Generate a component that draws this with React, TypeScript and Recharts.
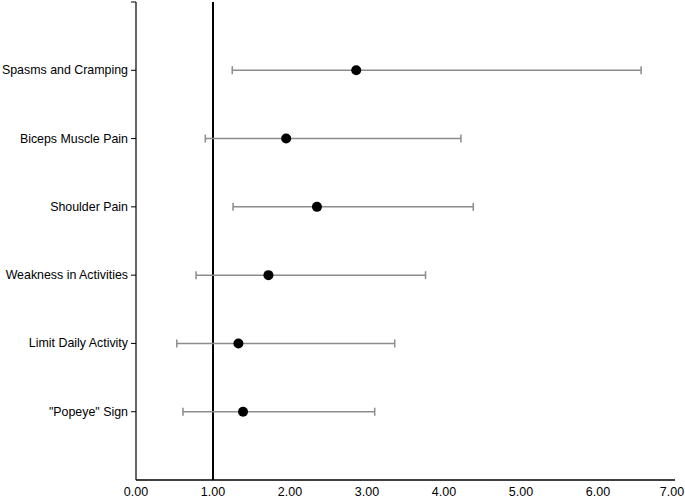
import {
  ComposedChart,
  Scatter,
  ErrorBar,
  XAxis,
  YAxis,
  ReferenceLine,
} from "recharts";

const categories = [
  "Spasms and Cramping",
  "Biceps Muscle Pain",
  "Shoulder Pain",
  "Weakness in Activities",
  "Limit Daily Activity",
  "\"Popeye\" Sign",
];
const oddsRatio = [2.86, 1.95, 2.35, 1.72, 1.33, 1.39];
const lowerCI = [1.25, 0.9, 1.26, 0.78, 0.53, 0.61];
const upperCI = [6.56, 4.22, 4.38, 3.76, 3.36, 3.1];
const xTicks = [0, 1, 2, 3, 4, 5, 6, 7];
const yTicks = [1, 2, 3, 4, 5, 6, 7];

const rows = categories.map((name, i) => ({
  name,
  x: oddsRatio[i],
  y: categories.length - i,
  err: [oddsRatio[i] - lowerCI[i], upperCI[i] - oddsRatio[i]],
}));

const font = "'Liberation Sans', Arial, sans-serif";

const Dot = (props: any) => (
  <circle cx={props.cx} cy={props.cy} r={5} fill="#000" />
);

const YTick = (props: any) => {
  const v = props.payload.value;
  const label = v >= 1 && v <= categories.length ? categories[categories.length - v] : "";
  return (
    <text x={props.x - 1} y={props.y} dy={4} textAnchor="end" fill="#000" fontSize={12.4} fontFamily={font}>
      {label}
    </text>
  );
};

const XTick = (props: any) => {
  const x = Math.min(props.x, 685 - 13);
  return (
    <text x={x} y={props.y} dy={10} textAnchor="middle" fill="#000" fontSize={12.5} fontFamily={font}>
      {Number(props.payload.value).toFixed(2)}
    </text>
  );
};

export default function App() {
  return (
    <div style={{ position: "absolute", left: 0, top: 0, background: "#fff" }}>
      <ComposedChart
        width={685}
        height={502}
        margin={{ top: 2, right: 10, left: 0, bottom: 0 }}
      >
        <XAxis
          type="number"
          dataKey="x"
          domain={[0, 7]}
          ticks={xTicks}
          height={22}
          tickLine={false}
          tickSize={4}
          axisLine={{ stroke: "#000", strokeWidth: 1.5 }}
          tick={<XTick />}
          interval={0}
        />
        <YAxis
          type="number"
          dataKey="y"
          domain={[0, 7]}
          ticks={yTicks}
          width={136}
          tickSize={5}
          tickMargin={2}
          tickLine={{ stroke: "#000" }}
          axisLine={{ stroke: "#000", strokeWidth: 1.2 }}
          tick={<YTick />}
          interval={0}
        />
        <ReferenceLine x={1} stroke="#000" strokeWidth={2} />
        <Scatter data={rows} shape={Dot} isAnimationActive={false}>
          <ErrorBar
            dataKey="err"
            direction="x"
            width={4}
            stroke="#8c8c8c"
            strokeWidth={1.5}
          />
        </Scatter>
      </ComposedChart>
    </div>
  );
}
